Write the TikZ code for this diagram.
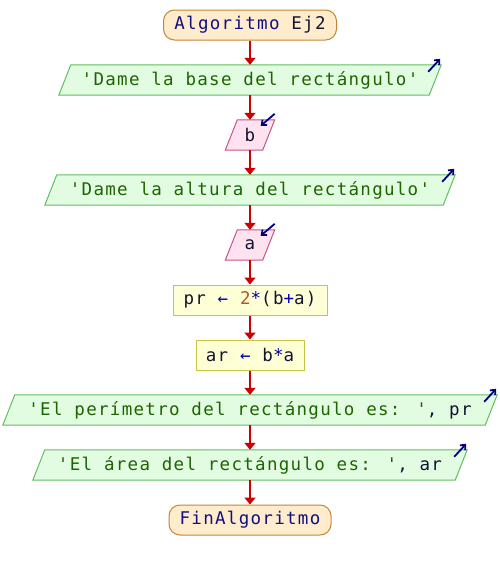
\documentclass[tikz,border=0pt]{standalone}
\usepackage{fontspec}
\newfontfamily\flowfont[LetterSpace=7.4]{DejaVu Sans Mono}
\usetikzlibrary{arrows.meta,calc,backgrounds}

\definecolor{termfill}{RGB}{255,236,204}
\definecolor{termdraw}{RGB}{196,134,52}
\definecolor{outfill}{RGB}{226,252,226}
\definecolor{outdraw}{RGB}{96,192,96}
\definecolor{infill}{RGB}{255,226,240}
\definecolor{indraw}{RGB}{196,84,140}
\definecolor{procfill}{RGB}{255,255,214}
\definecolor{procdraw}{RGB}{200,196,70}
\definecolor{flowred}{RGB}{204,0,0}
\definecolor{glyphblue}{RGB}{0,0,128}
\definecolor{kwc}{RGB}{16,16,128}
\definecolor{idc}{RGB}{20,20,50}
\definecolor{strc}{RGB}{30,100,0}
\definecolor{opc}{RGB}{0,0,170}
\definecolor{numc}{RGB}{176,88,40}

% parallelogram behind a text node: #1 node, #2 fill, #3 border
\newcommand\slantbox[3]{%
  \path[fill=#2, draw=#3, line width=1pt]
    ($(#1.north west)+(6,0)$) -- ($(#1.north east)+(6,0)$) --
    ($(#1.south east)+(-6,0)$) -- ($(#1.south west)+(-6,0)$) -- cycle;}
% small arrow marking an output (points out) or an input (points in)
\newcommand\outmark[1]{%
  \draw[glyph] ($(#1.north east)+(-7,7)$) -- ($(#1.north east)+(5,-6)$);}
\newcommand\inmark[1]{%
  \draw[glyph] ($(#1.north east)+(6,-6)$) -- ($(#1.north east)+(-8,6)$);}

\begin{document}
\begin{tikzpicture}[x=1pt,y=-1pt,
  every node/.style={font=\flowfont\fontsize{17.5}{20}\selectfont,
    inner sep=0pt, minimum height=30pt},
  term/.style={draw=termdraw, fill=termfill, rounded corners=11pt, line width=1pt},
  proc/.style={draw=procdraw, fill=procfill, line width=1pt},
  flow/.style={draw=flowred, line width=2.2pt, -{Triangle[width=11pt,length=7pt]}},
  glyph/.style={draw=glyphblue, line width=1.8pt, -{Straight Barb[length=4pt,width=7pt]}}]
\useasboundingbox (0,0) rectangle (500,570);

\node[term, minimum width=173pt] (start) at (250,25)
  {\textcolor{kwc}{Algoritmo} \textcolor{idc}{Ej2}};
\node[minimum width=370pt] (o1) at (250,80)
  {\textcolor{strc}{'Dame la base del rectángulo'}};
\node[minimum width=37pt] (b) at (250,135) {\textcolor{idc}{b}};
\node[minimum width=398pt] (o2) at (250,190)
  {\textcolor{strc}{'Dame la altura del rectángulo'}};
\node[minimum width=37pt] (a) at (250,245) {\textcolor{idc}{a}};
\node[proc, minimum width=154pt] (pr) at (250,300)
  {\textcolor{idc}{pr} \textcolor{opc}{←} \textcolor{numc}{2}\textcolor{opc}{*}\textcolor{idc}{(b}\textcolor{opc}{+}\textcolor{idc}{a)}};
\node[proc, minimum width=108pt] (ar) at (250,355)
  {\textcolor{idc}{ar} \textcolor{opc}{←} \textcolor{idc}{b}\textcolor{opc}{*}\textcolor{idc}{a}};
\node[minimum width=482pt] (o3) at (250,410)
  {\textcolor{strc}{'El perímetro del rectángulo es: '}\textcolor{idc}{, pr}};
\node[minimum width=422pt] (o4) at (250,465)
  {\textcolor{strc}{'El área del rectángulo es: '}\textcolor{idc}{, ar}};
\node[term, minimum width=162pt] (end) at (250,520)
  {\textcolor{kwc}{FinAlgoritmo}};

\begin{scope}[on background layer]
  \foreach \n in {o1,o2,o3,o4} {\slantbox{\n}{outfill}{outdraw}}
  \foreach \n in {b,a} {\slantbox{\n}{infill}{indraw}}
\end{scope}

\foreach \n in {o1,o2,o3,o4} {\outmark{\n}}
\foreach \n in {b,a} {\inmark{\n}}

\draw[flow] (start.south) -- (o1.north);
\draw[flow] (o1.south) -- (b.north);
\draw[flow] (b.south) -- (o2.north);
\draw[flow] (o2.south) -- (a.north);
\draw[flow] (a.south) -- (pr.north);
\draw[flow] (pr.south) -- (ar.north);
\draw[flow] (ar.south) -- (o3.north);
\draw[flow] (o3.south) -- (o4.north);
\draw[flow] (o4.south) -- (end.north);
\end{tikzpicture}
\end{document}
